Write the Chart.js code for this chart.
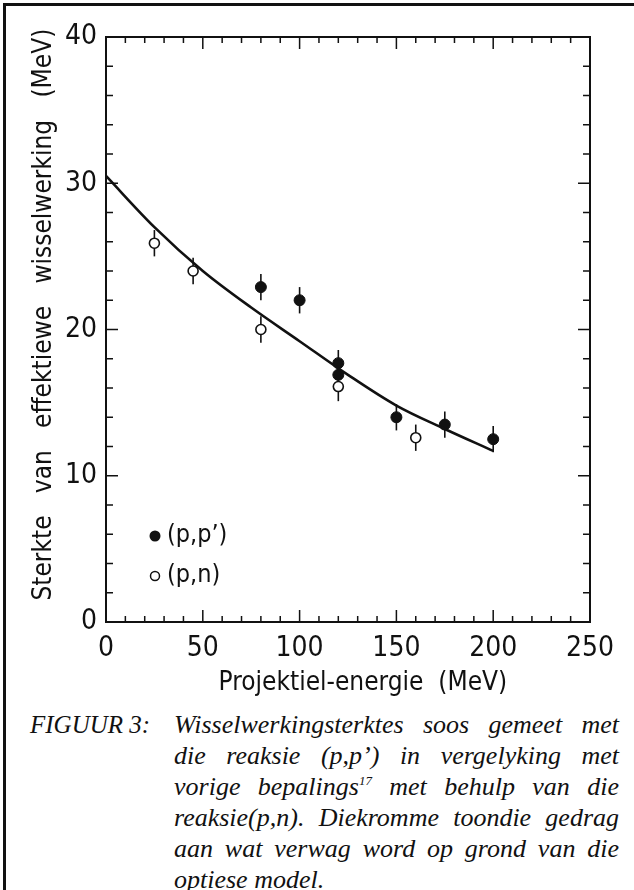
<!DOCTYPE html>
<html>
<head>
<meta charset="utf-8">
<script src="https://cdn.jsdelivr.net/npm/chart.js@4.4.1/dist/chart.umd.min.js"></script>
<style>
    html, body { margin: 0; padding: 0; background: #fff; }
    #page {
        position: relative;
        width: 634px;
        height: 890px;
        overflow: hidden;
        box-sizing: border-box;
        border-left: 3px solid #111;
        border-top: 3px solid #111;
        margin-top: 3px;
        margin-left: 3px;
    }
    #chart-box { position: absolute; left: -6px; top: -6px; width: 634px; height: 700px; }
    #caption {
        position: absolute;
        left: 24px;
        top: 703px;
        width: 600px;
        font-family: "Liberation Serif", "DejaVu Serif", serif;
        font-style: italic;
        font-size: 26px;
        line-height: 31px;
        color: #111;
    }
    #caption .label { position: absolute; left: 0; top: 0; font-size: 25px; }
    #caption .body { margin-left: 144px; width: 445px; }
    #caption .line { text-align: justify; text-align-last: justify; white-space: nowrap; }
    #caption .line.last { text-align-last: left; }
    sup { font-size: 13px; line-height: 0; vertical-align: 10px; }
</style>
</head>
<body>
<div id="page">
    <div id="chart-box"><canvas id="strength-chart" width="634" height="700"></canvas></div>
    <div id="caption">
        <div class="label">FIGUUR 3:</div>
        <div class="body">
            <div class="line">Wisselwerkingsterktes soos gemeet met</div>
            <div class="line">die reaksie (p,p’) in vergelyking met</div>
            <div class="line">vorige bepalings<sup>17</sup> met behulp van die</div>
            <div class="line">reaksie(p,n). Diekromme toondie gedrag</div>
            <div class="line">aan wat verwag word op grond van die</div>
            <div class="line last">optiese model.</div>
        </div>
    </div>
</div>

<script>
// (p,p') measurements
const ppEnergy = [80, 100, 120, 120, 150, 175, 200];
const ppStrength = [22.9, 22.0, 17.7, 16.9, 14.0, 13.5, 12.5];
const ppError = [0.9, 0.9, 0.9, 0.9, 0.9, 0.9, 0.9];

// (p,n) earlier determinations
const pnEnergy = [25, 45, 80, 120, 160];
const pnStrength = [25.9, 24.0, 20.0, 16.1, 12.6];
const pnError = [0.9, 0.9, 0.9, 1.0, 0.9];

// optical model curve
const curveEnergy = [0, 25, 50, 75, 100, 125, 150, 175, 200];
const curveStrength = [30.5, 27.0, 24.0, 21.5, 19.2, 16.9, 14.8, 13.2, 11.7];

const xTicks = [0, 50, 100, 150, 200, 250];
const yTicks = [0, 10, 20, 30, 40];

const ink = '#111111';
const fontFamily = '"Liberation Sans Narrow", "DejaVu Sans Condensed", "Liberation Sans", sans-serif';

const toPoints = (xs, ys) => xs.map((x, i) => ({ x: x, y: ys[i] }));

// error bars under the markers
const errorBars = {
    id: 'errorBars',
    beforeDatasetsDraw(chart) {
        const ctx = chart.ctx;
        const xs = chart.scales.x, ys = chart.scales.y;
        const sets = [[ppEnergy, ppStrength, ppError], [pnEnergy, pnStrength, pnError]];
        ctx.save();
        ctx.strokeStyle = ink;
        ctx.lineWidth = 1.6;
        sets.forEach(([ex, ey, err]) => {
            ex.forEach((x, i) => {
                const px = xs.getPixelForValue(x);
                ctx.beginPath();
                ctx.moveTo(px, ys.getPixelForValue(ey[i] - err[i]));
                ctx.lineTo(px, ys.getPixelForValue(ey[i] + err[i]));
                ctx.stroke();
            });
        });
        ctx.restore();
    }
};

// frame and inward tick marks on all four sides
const frameTicks = {
    id: 'frameTicks',
    afterDraw(chart) {
        const ctx = chart.ctx;
        const a = chart.chartArea;
        const xs = chart.scales.x, ys = chart.scales.y;
        ctx.save();
        ctx.strokeStyle = ink;
        ctx.lineWidth = 2;
        ctx.strokeRect(a.left, a.top, a.right - a.left, a.bottom - a.top);
        ctx.lineWidth = 1.5;
        ctx.beginPath();
        for (let v = 10; v < 250; v += 10) {
            const px = xs.getPixelForValue(v);
            const len = v % 50 === 0 ? 12 : 6;
            ctx.moveTo(px, a.bottom); ctx.lineTo(px, a.bottom - len);
            ctx.moveTo(px, a.top); ctx.lineTo(px, a.top + len);
        }
        for (let v = 2; v < 40; v += 2) {
            const py = ys.getPixelForValue(v);
            const len = v % 10 === 0 ? 12 : 7;
            ctx.moveTo(a.left, py); ctx.lineTo(a.left + len, py);
            ctx.moveTo(a.right, py); ctx.lineTo(a.right - len, py);
        }
        ctx.stroke();
        ctx.restore();
    }
};

// legend inside the plot, lower left
const insideLegend = {
    id: 'insideLegend',
    afterDraw(chart) {
        const ctx = chart.ctx;
        const a = chart.chartArea;
        const rows = [
            { label: "(p,p’)", filled: true },
            { label: '(p,n)', filled: false }
        ];
        ctx.save();
        ctx.font = '25px ' + fontFamily;
        ctx.textBaseline = 'middle';
        ctx.fillStyle = ink;
        ctx.strokeStyle = ink;
        ctx.lineWidth = 1.5;
        rows.forEach((r, i) => {
            const cx = a.left + 49;
            const cy = a.bottom - 86 + i * 40;
            ctx.beginPath();
            ctx.arc(cx, cy, r.filled ? 5.5 : 4.5, 0, Math.PI * 2);
            if (r.filled) ctx.fill(); else ctx.stroke();
            ctx.fillText(r.label, cx + 12, cy - 1);
        });
        ctx.restore();
    }
};

const ctx = document.getElementById('strength-chart').getContext('2d');

new Chart(ctx, {
    type: 'scatter',
    data: {
        datasets: [
            {
                label: 'optiese model',
                type: 'line',
                data: toPoints(curveEnergy, curveStrength),
                borderColor: ink,
                borderWidth: 2.6,
                pointRadius: 0,
                fill: false,
                cubicInterpolationMode: 'monotone'
            },
            {
                label: "(p,p’)",
                data: toPoints(ppEnergy, ppStrength),
                backgroundColor: ink,
                borderColor: ink,
                borderWidth: 1,
                pointRadius: 5.5
            },
            {
                label: '(p,n)',
                data: toPoints(pnEnergy, pnStrength),
                backgroundColor: '#ffffff',
                borderColor: ink,
                borderWidth: 1.6,
                pointRadius: 5
            }
        ]
    },
    options: {
        responsive: false,
        animation: false,
        layout: { padding: { top: 37, right: 44, left: 0, bottom: 0 } },
        plugins: {
            legend: { display: false },
            tooltip: { enabled: false }
        },
        scales: {
            x: {
                type: 'linear',
                min: 0,
                max: 250,
                afterBuildTicks: (scale) => { scale.ticks = xTicks.map(v => ({ value: v })); },
                afterFit: (scale) => { scale.height = 78; },
                grid: { display: false, drawTicks: false },
                border: { display: false },
                ticks: {
                    padding: 10,
                    color: ink,
                    font: { family: fontFamily, size: 28 }
                },
                title: {
                    display: true,
                    text: '    Projektiel-energie  (MeV)',
                    color: ink,
                    padding: { top: 0, bottom: 1 },
                    font: { family: fontFamily, size: 26 }
                }
            },
            y: {
                type: 'linear',
                min: 0,
                max: 40,
                afterBuildTicks: (scale) => { scale.ticks = yTicks.map(v => ({ value: v })); },
                afterFit: (scale) => { scale.width = 106; },
                grid: { display: false, drawTicks: false },
                border: { display: false },
                ticks: {
                    padding: 9,
                    color: ink,
                    font: { family: fontFamily, size: 28 }
                },
                title: {
                    display: true,
                    text: '    Sterkte   van   effektiewe   wisselwerking   (MeV)',
                    color: ink,
                    padding: { top: 29, bottom: 0 },
                    font: { family: fontFamily, size: 26 }
                }
            }
        }
    },
    plugins: [errorBars, frameTicks, insideLegend]
});
</script>
</body>
</html>
